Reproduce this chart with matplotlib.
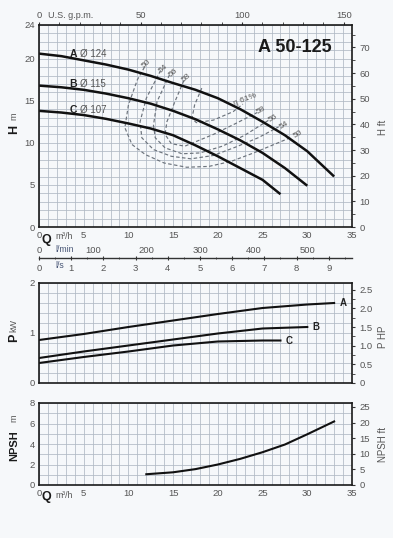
import matplotlib.pyplot as plt
from matplotlib.ticker import MultipleLocator

plt.rcParams['font.family'] = ['Liberation Sans', 'DejaVu Sans']

# --- data (Q in m3/h) ---
q_a = [0, 2.5, 5, 7.5, 10, 12.5, 15, 17.5, 20, 22.5, 25, 27.5, 30, 33]
h_a = [20.6, 20.3, 19.8, 19.3, 18.7, 17.95, 17.1, 16.3, 15.3, 14.0, 12.5, 10.9, 9.0, 6.0]
q_b = [0, 2.5, 5, 7.5, 10, 12.5, 15, 17.5, 20, 22.5, 25, 27.5, 30]
h_b = [16.8, 16.6, 16.3, 15.85, 15.3, 14.65, 13.8, 12.8, 11.6, 10.3, 8.8, 7.0, 4.9]
q_c = [0, 2.5, 5, 7.5, 10, 12.5, 15, 17.5, 20, 22.5, 25, 27]
h_c = [13.8, 13.6, 13.3, 12.85, 12.3, 11.7, 10.9, 9.7, 8.4, 7.0, 5.6, 3.9]
curve_names = ['A', 'B', 'C']
impellers = ['124', '115', '107']

# efficiency iso-lines
eff_50_q = [11.8, 11.0, 10.0, 9.6, 10.4, 11.9, 14.0, 16.5, 19.0, 21.5, 24.0, 26.5, 28.3]
eff_50_h = [19.0, 17.5, 14.5, 11.8, 9.8, 8.6, 7.6, 7.1, 7.2, 7.8, 8.8, 9.9, 10.7]
eff_54_q = [13.6, 12.0, 11.3, 11.5, 12.8, 14.8, 17.0, 19.5, 22.0, 24.5, 26.8]
eff_54_h = [18.6, 15.3, 12.5, 10.6, 9.2, 8.4, 8.1, 8.5, 9.5, 10.6, 11.9]
eff_56_q = [14.6, 13.2, 12.8, 13.0, 14.1, 16.0, 18.0, 20.5, 23.0, 25.7]
eff_56_h = [18.1, 14.9, 12.1, 10.6, 9.4, 8.7, 8.8, 9.6, 10.9, 12.7]
eff_58_q = [16.2, 15.2, 14.3, 14.1, 14.8, 16.3, 19.5, 22.0, 24.4]
eff_58_h = [17.4, 14.9, 12.5, 11.0, 9.9, 9.6, 11.0, 12.3, 13.6]
eff_61_q = [18.2, 17.4, 17.1, 17.6, 19.5, 21.7, 22.8]
eff_61_h = [16.5, 14.5, 12.9, 12.4, 12.7, 13.7, 14.6]

# power
q_pa = [0, 5, 10, 15, 20, 25, 30, 33]
p_a = [0.86, 0.98, 1.12, 1.25, 1.38, 1.50, 1.57, 1.60]
q_pb = [0, 5, 10, 15, 20, 25, 30]
p_b = [0.50, 0.63, 0.75, 0.87, 0.99, 1.09, 1.12]
q_pc = [0, 5, 10, 15, 20, 25, 27]
p_c = [0.40, 0.52, 0.63, 0.75, 0.83, 0.85, 0.85]

# NPSH
q_npsh = [12, 15, 17.5, 20, 22.5, 25, 27.5, 30, 33]
npsh = [1.05, 1.24, 1.55, 2.0, 2.55, 3.2, 3.95, 4.95, 6.2]

W, H = 393, 538
bg = '#f6f8fa'
gridc = '#b0b9c4'
txtc = '#555555'


def rect(l, t, r, b):
    return [l / W, 1 - b / H, (r - l) / W, (b - t) / H]


def px(x, y):
    return x / W, 1 - y / H


fig = plt.figure(figsize=(W / 100, H / 100), dpi=100, facecolor=bg)


def style(ax, ymaj, ymin):
    ax.set_facecolor(bg)
    ax.set_xlim(0, 35)
    ax.xaxis.set_major_locator(MultipleLocator(5))
    ax.xaxis.set_minor_locator(MultipleLocator(1))
    ax.yaxis.set_major_locator(MultipleLocator(ymaj))
    ax.yaxis.set_minor_locator(MultipleLocator(ymin))
    ax.grid(which='both', color=gridc, lw=0.55)
    ax.set_axisbelow(True)
    ax.tick_params(which='both', length=0, labelsize=6.8, labelcolor=txtc, pad=3)
    for s in ax.spines.values():
        s.set_color('#1a1a1a')
        s.set_linewidth(1.2)


# ---------------- head chart ----------------
ax = fig.add_axes(rect(39, 25, 352, 227))
style(ax, 5, 1)
ax.set_ylim(0, 24)
ax.set_yticks([0, 5, 10, 15, 20, 24])

for qs, hs in [(eff_50_q, eff_50_h), (eff_54_q, eff_54_h), (eff_56_q, eff_56_h),
               (eff_58_q, eff_58_h), (eff_61_q, eff_61_h)]:
    ax.plot(qs, hs, color='#6c737c', lw=0.85, ls=(0, (3, 2)))

for qs, hs in [(q_a, h_a), (q_b, h_b), (q_c, h_c)]:
    ax.plot(qs, hs, color='#111111', lw=1.8, solid_capstyle='butt')

for name, d, hy in zip(curve_names, impellers, [20.6, 17.0, 13.9]):
    ax.text(3.4, hy, name, fontsize=7.5, fontweight='bold', va='center', color='#222')
    ax.text(4.6, hy, 'Ø ' + d, fontsize=7, va='center', color=txtc)

eff_left = [('50', 12.0, 19.4), ('54', 13.9, 18.8), ('56', 15.0, 18.3), ('58', 16.5, 17.7)]
for t, x, y in eff_left:
    ax.text(x, y, t, fontsize=6, color=txtc, rotation=40, ha='center', va='center')
eff_right = [('58', 24.8, 13.9), ('56', 26.2, 12.9), ('54', 27.4, 12.1), ('50', 29.0, 11.0)]
for t, x, y in eff_right:
    ax.text(x, y, t, fontsize=6, color=txtc, rotation=30, ha='center', va='center')
ax.text(23.0, 15.1, 'η 61%', fontsize=6, color=txtc, rotation=20, ha='center', va='center')

ax.text(0.818, 0.89, 'A 50-125', transform=ax.transAxes, fontsize=13,
        fontweight='bold', ha='center', va='center', color='#1a1a1a')

# top: US gpm
gpm = ax.secondary_xaxis('top', functions=(lambda q: q * 4.4029, lambda g: g / 4.4029))
gpm.set_xticks([0, 50, 100, 150])
gpm.xaxis.set_minor_locator(MultipleLocator(10))
gpm.tick_params(which='both', length=2, labelsize=6.8, labelcolor=txtc, color='#333', pad=1.5)
gpm.spines['top'].set_visible(False)

# right: H ft
hft = ax.secondary_yaxis('right', functions=(lambda m: m * 3.2808, lambda f: f / 3.2808))
hft.set_yticks([0, 10, 20, 30, 40, 50, 60, 70])
hft.yaxis.set_minor_locator(MultipleLocator(5))
hft.tick_params(which='both', length=2.5, labelsize=6.8, labelcolor=txtc, color='#333', pad=3)
hft.spines['right'].set_visible(False)

# l/min axis
lmin = ax.secondary_xaxis(-0.08, functions=(lambda q: q * 1000 / 60, lambda l: l * 60 / 1000))
lmin.set_xticks([0, 100, 200, 300, 400, 500])
lmin.tick_params(length=0, labelsize=6.8, labelcolor=txtc, pad=2)
lmin.spines['bottom'].set_visible(False)

# l/s axis
lps = ax.secondary_xaxis(-0.152, functions=(lambda q: q / 3.6, lambda s: s * 3.6))
lps.set_xticks(range(10))
lps.xaxis.set_minor_locator(MultipleLocator(0.5))
lps.tick_params(which='major', length=3, direction='inout', labelsize=6.8,
                labelcolor=txtc, color='#333', pad=3)
lps.tick_params(which='minor', length=2, direction='inout', color='#333')
lps.spines['bottom'].set_color('#333')
lps.spines['bottom'].set_linewidth(1.0)

fig.text(*px(46, 240), 'Q', fontsize=9, fontweight='bold', ha='center', va='center', color='#1a1a1a')
fig.text(*px(55, 236.5), 'm³/h', fontsize=6.3, ha='left', va='center', color=txtc)
fig.text(*px(55, 249), 'l/min', fontsize=6.3, ha='left', va='center', color='#4a5878')
fig.text(*px(55, 266), 'l/s', fontsize=6.3, ha='left', va='center', color='#4a5878')
fig.text(*px(48, 15), 'U.S. g.p.m.', fontsize=6.5, ha='left', va='center', color=txtc)

fig.text(*px(14, 129), 'H', fontsize=9, fontweight='bold', rotation=90, ha='center', va='center', color='#1a1a1a')
fig.text(*px(14, 116), 'm', fontsize=6.5, rotation=90, ha='center', va='center', color=txtc)
fig.text(*px(383, 127), 'H ft', fontsize=7, rotation=90, ha='center', va='center', color=txtc)

# ---------------- power chart ----------------
pax = fig.add_axes(rect(39, 283, 352, 383))
style(pax, 1, 0.2)
pax.set_ylim(0, 2)
pax.set_xticklabels([])
for qs, ps in [(q_pa, p_a), (q_pb, p_b), (q_pc, p_c)]:
    pax.plot(qs, ps, color='#111111', lw=1.5)
for name, qs, ps in [('A', q_pa, p_a), ('B', q_pb, p_b), ('C', q_pc, p_c)]:
    pax.text(qs[-1] + 0.6, ps[-1], name, fontsize=7, fontweight='bold', va='center', color='#222')

php = pax.secondary_yaxis('right', functions=(lambda k: k / 0.7457, lambda h: h * 0.7457))
php.set_yticks([0, 0.5, 1.0, 1.5, 2.0, 2.5], ['0', '0.5', '1.0', '1.5', '2.0', '2.5'])
php.yaxis.set_minor_locator(MultipleLocator(0.25))
php.tick_params(which='both', length=2.5, labelsize=6.8, labelcolor=txtc, color='#333', pad=3)
php.spines['right'].set_visible(False)

fig.text(*px(14, 338), 'P', fontsize=9, fontweight='bold', rotation=90, ha='center', va='center', color='#1a1a1a')
fig.text(*px(14, 326), 'kW', fontsize=6.5, rotation=90, ha='center', va='center', color=txtc)
fig.text(*px(383, 337), 'P HP', fontsize=7, rotation=90, ha='center', va='center', color=txtc)

# ---------------- NPSH chart ----------------
nax = fig.add_axes(rect(39, 403, 352, 485))
style(nax, 2, 1)
nax.set_ylim(0, 8)
nax.plot(q_npsh, npsh, color='#111111', lw=1.5)

nft = nax.secondary_yaxis('right', functions=(lambda m: m * 3.2808, lambda f: f / 3.2808))
nft.set_yticks([0, 5, 10, 15, 20, 25])
nft.tick_params(length=2.5, labelsize=6.8, labelcolor=txtc, color='#333', pad=3)
nft.spines['right'].set_visible(False)

fig.text(*px(46, 497), 'Q', fontsize=9, fontweight='bold', ha='center', va='center', color='#1a1a1a')
fig.text(*px(55, 495), 'm³/h', fontsize=6.3, ha='left', va='center', color=txtc)

fig.text(*px(14, 446), 'NPSH', fontsize=8, fontweight='bold', rotation=90, ha='center', va='center', color='#1a1a1a')
fig.text(*px(14, 418), 'm', fontsize=6.5, rotation=90, ha='center', va='center', color=txtc)
fig.text(*px(383, 445), 'NPSH ft', fontsize=7, rotation=90, ha='center', va='center', color=txtc)

fig.savefig('out.png', dpi=100, facecolor=bg)
